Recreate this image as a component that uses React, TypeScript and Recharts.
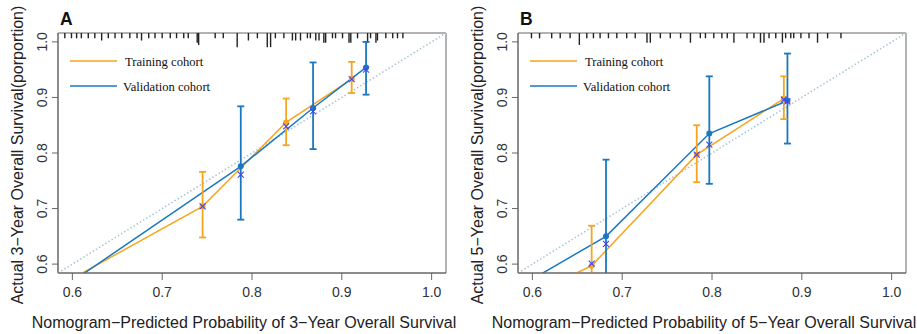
import React from 'react';
import { ComposedChart, Line, Scatter, XAxis, YAxis, ReferenceArea, ReferenceLine } from 'recharts';

// ---------- shared axis settings ----------
const X_TICKS = [0.6, 0.7, 0.8, 0.9, 1.0];
const Y_TICKS = [0.6, 0.7, 0.8, 0.9, 1.0];
const AXIS_MIN = 0.584;
const AXIS_MAX = 1.016;
const IDEAL_LINE = [0.5, 1.1];

// ---------- Panel A : 3-year ----------
const A_TRAIN_START = [0.6, 0.574];
const A_TRAIN_PRED = [0.745, 0.838, 0.911];
const A_TRAIN_OBS = [0.704, 0.855, 0.933];
const A_TRAIN_LO = [0.648, 0.814, 0.908];
const A_TRAIN_HI = [0.766, 0.898, 0.964];
const A_TRAIN_CORR = [0.704, 0.848, 0.933];

const A_VAL_START = [0.6, 0.569];
const A_VAL_PRED = [0.7875, 0.868, 0.927];
const A_VAL_OBS = [0.776, 0.881, 0.954];
const A_VAL_LO = [0.68, 0.807, 0.905];
const A_VAL_HI = [0.884, 0.963, 1.0];
const A_VAL_CORR = [0.761, 0.875, 0.95];

const A_RUG_X = [0.5916, 0.599, 0.6047, 0.61, 0.6177, 0.625, 0.6326, 0.64, 0.6475, 0.655, 0.664, 0.672, 0.677, 0.685, 0.692, 0.7, 0.709, 0.716, 0.724, 0.729, 0.739, 0.7406, 0.759, 0.768, 0.7835, 0.796, 0.806, 0.817, 0.8207, 0.826, 0.8355, 0.845, 0.8486, 0.854, 0.8617, 0.865, 0.871, 0.8746, 0.88, 0.882, 0.8896, 0.893, 0.9008, 0.908, 0.91, 0.9175, 0.9287, 0.932, 0.938, 0.9397, 0.949, 0.9567, 0.962, 0.968];
const A_RUG_N = [1, 1, 1, 1, 1, 1, 2, 1, 1, 1, 1, 1, 2, 1, 1, 1, 1, 1, 1, 1, 3, 4, 1, 1, 5, 2, 1, 5, 5, 1, 1, 2, 2, 2, 1, 1, 2, 2, 3, 3, 1, 1, 1, 3, 3, 1, 3, 1, 3, 2, 1, 1, 1, 1];

// ---------- Panel B : 5-year ----------
const B_TRAIN_START = [0.6, 0.546];
const B_TRAIN_PRED = [0.666, 0.783, 0.88];
const B_TRAIN_OBS = [0.597, 0.797, 0.898];
const B_TRAIN_LO = [0.55, 0.7475, 0.861];
const B_TRAIN_HI = [0.669, 0.85, 0.938];
const B_TRAIN_CORR = [0.601, 0.797, 0.896];

const B_VAL_START = [0.6, 0.573];
const B_VAL_PRED = [0.682, 0.797, 0.884];
const B_VAL_OBS = [0.65, 0.835, 0.894];
const B_VAL_LO = [0.52, 0.7445, 0.817];
const B_VAL_HI = [0.788, 0.938, 0.979];
const B_VAL_CORR = [0.6365, 0.815, 0.893];

const B_RUG_X = [0.599, 0.608, 0.6215, 0.631, 0.642, 0.6523, 0.6606, 0.668, 0.6754, 0.6847, 0.694, 0.705, 0.7145, 0.7276, 0.7313, 0.7425, 0.7536, 0.765, 0.776, 0.787, 0.7927, 0.802, 0.811, 0.817, 0.8244, 0.839, 0.8467, 0.854, 0.8579, 0.8635, 0.871, 0.8784, 0.882, 0.8877, 0.891, 0.899, 0.908, 0.9175, 0.9287, 0.9436];
const B_RUG_N = [1, 1, 1, 1, 1, 4, 1, 1, 1, 1, 1, 1, 1, 3, 3, 1, 1, 1, 3, 1, 1, 1, 1, 1, 3, 1, 1, 3, 3, 1, 1, 3, 1, 1, 1, 1, 1, 3, 1, 1];

// ---------- styles ----------
const ORANGE = '#F7A520';
const BLUE = '#1A78C2';
const XMARK = '#4545EE';
const IDEAL_COLOR = '#A9C6D6';
const FRAME = '#666666';
const RUG_BASE = 0.0055; // rug tick length (axis units) for zero count
const RUG_STEP = 0.004; // extra length per count
const SANS = '"Liberation Sans", Arial, sans-serif';
const SERIF = '"Liberation Serif", "Times New Roman", serif';

const toLine = (start: number[], xs: number[], ys: number[]) => [
  { x: start[0], y: start[1] },
  ...xs.map((x, i) => ({ x, y: ys[i] })),
];
const toMarks = (xs: number[], ys: number[]) => xs.map((x, i) => ({ x, y: ys[i] }));
const toBars = (xs: number[], lo: number[], hi: number[]) =>
  xs.map((x, i) => [{ x, y: lo[i] }, { x, y: hi[i] }]);

const Dot = (color: string) => (p: any) => <circle cx={p.cx} cy={p.cy} r={3} fill={color} />;
const Cap = (color: string) => (p: any) => (
  <line key={`cap-${p.index}`} x1={p.cx - 3.5} x2={p.cx + 3.5} y1={p.cy} y2={p.cy} stroke={color} strokeWidth={1.8} />
);
const Cross = (p: any) => (
  <g stroke={XMARK} strokeWidth={1.1}>
    <line x1={p.cx - 3} y1={p.cy - 3} x2={p.cx + 3} y2={p.cy + 3} />
    <line x1={p.cx - 3} y1={p.cy + 3} x2={p.cx + 3} y2={p.cy - 3} />
  </g>
);

const YTick = (p: any) => {
  const bx = 47;
  return (
    <text
      x={bx}
      y={p.y}
      transform={`rotate(-90, ${bx}, ${p.y})`}
      textAnchor="middle"
      fontSize={14}
      fontFamily={SANS}
      fill="#333"
    >
      {Number(p.payload.value).toFixed(1)}
    </text>
  );
};

interface PanelProps {
  letter: string;
  years: number;
  left: number;
  trainStart: number[]; trainPred: number[]; trainObs: number[]; trainLo: number[]; trainHi: number[]; trainCorr: number[];
  valStart: number[]; valPred: number[]; valObs: number[]; valLo: number[]; valHi: number[]; valCorr: number[];
  rugX: number[]; rugN: number[];
}

function Panel(props: PanelProps) {
  const trainLine = toLine(props.trainStart, props.trainPred, props.trainObs);
  const valLine = toLine(props.valStart, props.valPred, props.valObs);
  const trainPts = toMarks(props.trainPred, props.trainObs);
  const valPts = toMarks(props.valPred, props.valObs);
  const trainBars = toBars(props.trainPred, props.trainLo, props.trainHi);
  const valBars = toBars(props.valPred, props.valLo, props.valHi);
  const trainMarks = toMarks(props.trainPred, props.trainCorr);
  const valMarks = toMarks(props.valPred, props.valCorr);
  const ideal = IDEAL_LINE.map((v) => ({ x: v, y: v }));

  const xTitle = `Nomogram\u2212Predicted Probability of ${props.years}\u2212Year Overall Survival`;
  const yTitle = `Actual ${props.years}\u2212Year Overall Survival(porportion)`;

  return (
    <div style={{ position: 'absolute', left: props.left, top: 0, width: 458, height: 334 }}>
      <ComposedChart width={458} height={334} margin={{ top: 33, right: 12, bottom: 0, left: 0 }}>
        <XAxis
          type="number"
          dataKey="x"
          domain={[AXIS_MIN, AXIS_MAX]}
          allowDataOverflow
          ticks={X_TICKS}
          tickFormatter={(v: number) => v.toFixed(1)}
          height={61}
          tickSize={7}
          tickMargin={7}
          tick={{ fontSize: 14, fontFamily: SANS, fill: '#333' }}
          axisLine={{ stroke: FRAME }}
          tickLine={{ stroke: FRAME }}
          label={{
            content: (lp: any) => {
              const vb = lp.viewBox;
              return (
                <text x={vb.x + vb.width / 2 - 8} y={328} textAnchor="middle" fontSize={16} fontFamily={SANS} fill="#222">
                  {xTitle}
                </text>
              );
            },
          }}
        />
        <YAxis
          type="number"
          dataKey="y"
          domain={[AXIS_MIN, AXIS_MAX]}
          allowDataOverflow
          ticks={Y_TICKS}
          width={58}
          tickSize={6}
          tick={YTick}
          axisLine={{ stroke: FRAME }}
          tickLine={{ stroke: FRAME }}
          label={{
            content: (lp: any) => {
              const vb = lp.viewBox;
              const cy = vb.y + vb.height / 2 + 2;
              return (
                <text x={23} y={cy} transform={`rotate(-90, 23, ${cy})`} textAnchor="middle" fontSize={16} fontFamily={SANS} fill="#222">
                  {yTitle}
                </text>
              );
            },
          }}
        />
        <ReferenceArea x1={AXIS_MIN} x2={AXIS_MAX} y1={AXIS_MIN} y2={AXIS_MAX} fill="none" stroke={FRAME} strokeWidth={1} ifOverflow="visible" />
        {props.rugX.map((x, i) => (
          <ReferenceLine
            key={`rug${i}`}
            segment={[{ x, y: AXIS_MAX }, { x, y: AXIS_MAX - RUG_BASE - props.rugN[i] * RUG_STEP }]}
            stroke="#222"
            strokeWidth={1.4}
            ifOverflow="visible"
          />
        ))}
        <Line data={ideal} dataKey="y" stroke={IDEAL_COLOR} strokeWidth={1.6} strokeDasharray="1.5 2.2" dot={false} isAnimationActive={false} />
        <Line data={trainLine} dataKey="y" stroke={ORANGE} strokeWidth={1.5} dot={false} isAnimationActive={false} />
        <Line data={valLine} dataKey="y" stroke={BLUE} strokeWidth={1.5} dot={false} isAnimationActive={false} />
        {trainBars.map((bar, i) => (
          <Line key={`tb${i}`} data={bar} dataKey="y" stroke={ORANGE} strokeWidth={1.8} dot={Cap(ORANGE)} isAnimationActive={false} />
        ))}
        {valBars.map((bar, i) => (
          <Line key={`vb${i}`} data={bar} dataKey="y" stroke={BLUE} strokeWidth={1.8} dot={Cap(BLUE)} isAnimationActive={false} />
        ))}
        <Scatter data={trainPts} dataKey="y" shape={Dot(ORANGE)} isAnimationActive={false} />
        <Scatter data={valPts} dataKey="y" shape={Dot(BLUE)} isAnimationActive={false} />
        <Scatter data={trainMarks} dataKey="y" shape={Cross} isAnimationActive={false} />
        <Scatter data={valMarks} dataKey="y" shape={Cross} isAnimationActive={false} />
      </ComposedChart>
      <svg width={458} height={334} style={{ position: 'absolute', left: 0, top: 0, pointerEvents: 'none' }}>
        <text x={60} y={24.5} fontSize={17.5} fontWeight="bold" fontFamily={SANS} fill="#111">{props.letter}</text>
        <line x1={70} x2={117} y1={61} y2={61} stroke={ORANGE} strokeWidth={1.5} />
        <text x={125} y={65.5} fontSize={12.6} fontFamily={SERIF} fill="#111">Training cohort</text>
        <line x1={70} x2={117} y1={86} y2={86} stroke={BLUE} strokeWidth={1.5} />
        <text x={123} y={90.5} fontSize={12.6} fontFamily={SERIF} fill="#111">Validation cohort</text>
      </svg>
    </div>
  );
}

export default function App() {
  return (
    <div style={{ position: 'absolute', left: 0, top: 0, width: 917, height: 334, background: '#fff' }}>
      <Panel
        letter="A" years={3} left={0}
        trainStart={A_TRAIN_START} trainPred={A_TRAIN_PRED} trainObs={A_TRAIN_OBS} trainLo={A_TRAIN_LO} trainHi={A_TRAIN_HI} trainCorr={A_TRAIN_CORR}
        valStart={A_VAL_START} valPred={A_VAL_PRED} valObs={A_VAL_OBS} valLo={A_VAL_LO} valHi={A_VAL_HI} valCorr={A_VAL_CORR}
        rugX={A_RUG_X} rugN={A_RUG_N}
      />
      <Panel
        letter="B" years={5} left={460}
        trainStart={B_TRAIN_START} trainPred={B_TRAIN_PRED} trainObs={B_TRAIN_OBS} trainLo={B_TRAIN_LO} trainHi={B_TRAIN_HI} trainCorr={B_TRAIN_CORR}
        valStart={B_VAL_START} valPred={B_VAL_PRED} valObs={B_VAL_OBS} valLo={B_VAL_LO} valHi={B_VAL_HI} valCorr={B_VAL_CORR}
        rugX={B_RUG_X} rugN={B_RUG_N}
      />
    </div>
  );
}
